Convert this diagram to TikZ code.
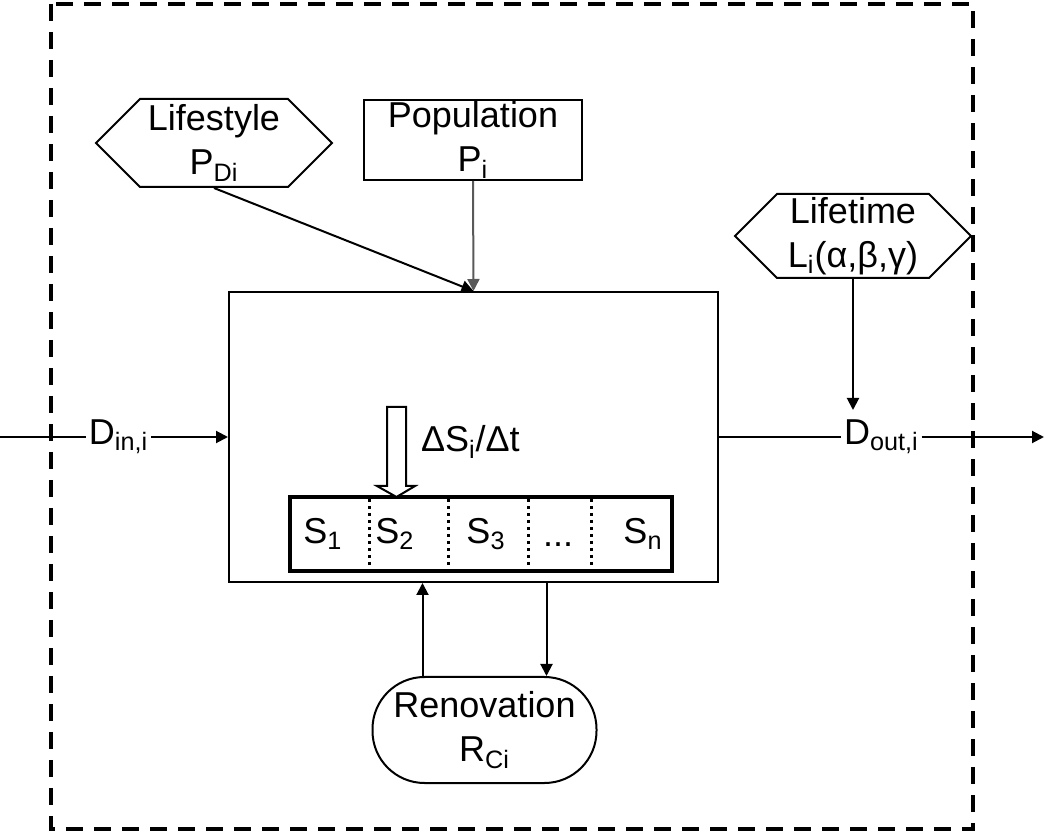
\documentclass[tikz,border=0pt]{standalone}
\usepackage{fontspec}
\setmainfont{Liberation Sans}
\usepackage{tikz}
\usetikzlibrary{arrows.meta}
\usetikzlibrary{positioning,calc}
\usetikzlibrary{shapes.symbols}
\tikzset{
    hexbox/.style={
        draw,
        signal,
        signal to=west and east,
        signal pointer angle=90,
        minimum width=118pt,
        minimum height=44pt,
        inner sep=1pt,
        align=center
    },
    rectbox/.style={
        draw,
        rectangle,
        line width=1pt,
        inner sep=0pt,
        align=center
    },
    roundbox/.style={
        draw,
        rectangle,
        rounded corners=26pt,
        line width=1pt,
        minimum width=112pt,
        minimum height=53pt,
        inner sep=0pt,
        align=center
    },
    flow/.style={
        -{Triangle[length=6pt, width=6pt]},
        line width=1pt
    },
    every node/.style={font=\fontsize{18}{22}\selectfont}
}

\begin{document}
\begin{tikzpicture}[x=0.5pt, y=-0.5pt, line width=1pt]
  \useasboundingbox (0,0) rectangle (1046,834);

  % System boundary
  \draw[line width=1.6pt, dash pattern=on 8.5pt off 5.5pt] (51,4) rectangle (973,829);

  % Driver boxes
  \node[hexbox] (lifestyle) at (214,143) {Lifestyle\\P\textsubscript{Di}};
  \node[rectbox, minimum width=109pt, minimum height=40pt] (population) at (473,140) {Population\\P\textsubscript{i}};
  \node[hexbox, minimum height=42pt] (lifetime) at (853,236) {Lifetime\\L\textsubscript{i}(α,β,γ)};

  % Main stock box
  \node[rectbox, minimum width=244.5pt, minimum height=145pt] (main) at (473.5,437) {};

  % Stock cohorts
  \node[rectbox, line width=2pt, minimum width=191pt, minimum height=37pt] (stock) at (481,534) {};
  \foreach \x in {369,448,528,591}
    \draw[dotted, line width=1.5pt] (\x,499) -- (\x,569);
  \node (s1) at (323,534) {S\textsubscript{1}};
  \node (s2) at (395,534) {S\textsubscript{2}};
  \node (s3) at (486,534) {S\textsubscript{3}};
  \node (sdots) at (558,545) {...};
  \node (sn) at (643,534) {S\textsubscript{n}};

  % Stock change arrow
  \draw[line width=1pt, fill=white] (387,407) -- (406,407) -- (406,486) -- (415,486)
    -- (396.5,497) -- (377,486) -- (387,486) -- cycle;
  \node[anchor=west, inner sep=1pt] (dsdt) at (418,442) {ΔS\textsubscript{i}/Δt};

  % Renovation
  \node[roundbox] (reno) at (484.5,730) {Renovation\\R\textsubscript{Ci}};

  % Flows in and out
  \coordinate (inend) at (0,437);
  \coordinate (outend) at (1044,437);
  \coordinate (ltend) at (853,410);
  \node[anchor=west, inner sep=1pt] (din) at (86,437) {D\textsubscript{in,i}};
  \node[anchor=west, inner sep=1pt] (dout) at (841,437) {D\textsubscript{out,i}};

  \draw (inend) -- (din.west);
  \draw[flow] (din.east) -- (main.west);
  \draw (main.east) -- (dout.west);
  \draw[flow] (dout.east) -- (outend);

  % Drivers
  \draw[flow] (lifestyle.south) -- (main.north);
  \draw[flow, gray!70!black] (population.south) -- (main.north);
  \draw[flow] (lifetime.south) -- (ltend);

  % Renovation loop
  \draw[flow] ([xshift=-31pt]reno.north) -- ([xshift=-31pt]reno.north |- main.south);
  \draw[flow] ([xshift=31pt]reno.north |- main.south) -- ([xshift=31pt]reno.north);
\end{tikzpicture}
\end{document}
